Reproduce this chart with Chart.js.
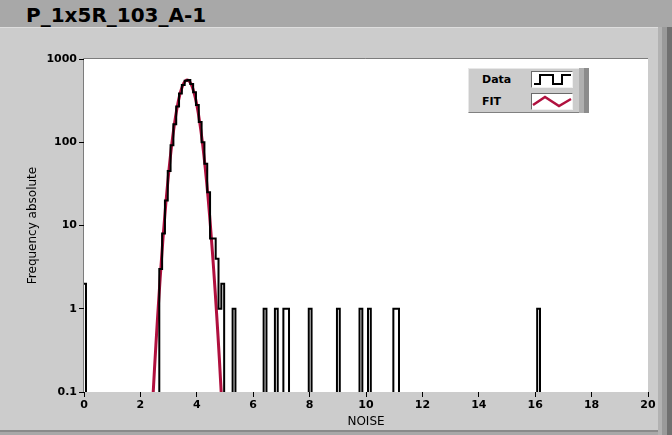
<!DOCTYPE html>
<html>
<head>
<meta charset="utf-8">
<script src="https://cdn.jsdelivr.net/npm/chart.js@4.4.0/dist/chart.umd.min.js"></script>
<style>
  html, body { margin: 0; padding: 0; }
  body {
    width: 672px; height: 435px; position: relative; overflow: hidden;
    background: #a8a8a8; font-family: "DejaVu Sans", sans-serif;
  }
  #title { position: absolute; left: 26px; top: 3px; font-size: 20px; font-weight: bold; color: #000; }
  #panel {
    position: absolute; left: 0; top: 27px; width: 658px; height: 402px;
    background: #cccccc; border-top: 1px solid #dedede; border-bottom: 2px solid #8a8a8a;
  }
  #rail {
    position: absolute; left: 658px; top: 27px; width: 14px; height: 408px;
    background: linear-gradient(to right, #b2b2b2 0 4px, #9a9a9a 4px 9px, #707070 9px);
  }
  #wrap { position: absolute; left: 0; top: 27px; width: 658px; height: 404px; }
  #legend {
    position: absolute; left: 468px; top: 68px; width: 110px; height: 43px;
    background: #cccccc; border-top: 1px solid #e8e8e8; border-left: 1px solid #e8e8e8;
    border-bottom: 1px solid #808080;
  }
  #legend::after {
    content: ""; position: absolute; left: 110px; top: -1px; width: 10px; height: 45px;
    background: linear-gradient(to right, #b0b0b0 0 5px, #8c8c8c 5px);
  }
  .row { position: absolute; left: 0; height: 22px; width: 110px; }
  .row span { position: absolute; left: 13px; top: 4px; font-size: 11px; font-weight: bold; color: #000; }
  .sw {
    position: absolute; left: 62px; top: 2px; width: 40px; height: 15px; background: #fff;
    border-top: 1px solid #6a6a6a; border-left: 1px solid #6a6a6a;
    border-bottom: 1px solid #f0f0f0; border-right: 1px solid #f0f0f0;
  }
  .sw svg { position: absolute; left: 0; top: 0; }
</style>
</head>
<body>
<div id="title">P_1x5R_103_A-1</div>
<div id="panel"></div>
<div id="rail"></div>
<div id="wrap"><canvas id="histChart"></canvas></div>
<div id="legend">
  <div class="row" style="top:0"><span>Data</span>
    <div class="sw"><svg width="40" height="15"><polyline points="2,12 8,12 8,3 21,3 21,12 30,12 30,3 39,3" fill="none" stroke="#000" stroke-width="2"/></svg></div>
  </div>
  <div class="row" style="top:22px"><span>FIT</span>
    <div class="sw"><svg width="40" height="15"><polyline points="1,11 13,3 27,12 39,5" fill="none" stroke="#b0103e" stroke-width="2.5"/></svg></div>
  </div>
</div>
<script>
// Histogram bins (left edge) and counts
const binStart = [-0.03, 0.07,
  2.57, 2.67, 2.77, 2.87, 2.97, 3.07, 3.17, 3.27, 3.37, 3.47, 3.57, 3.67,
  3.77, 3.87, 3.97, 4.07, 4.17, 4.27, 4.37, 4.47, 4.57, 4.67, 4.77, 4.87, 4.97,
  5.27, 5.37, 6.37, 6.47, 6.77, 6.87, 7.07, 7.17, 7.27, 7.97, 8.07, 8.97, 9.07,
  9.77, 9.87, 10.07, 10.17, 10.97, 11.07, 11.17, 16.07, 16.17, 20];
const binCount = [2, 0,
  0, 3, 8, 20, 45, 92, 165, 268, 385, 488, 548, 560,
  500, 400, 280, 175, 100, 55, 25, 7, 7, 4, 1, 2, 0,
  1, 0, 1, 0, 1, 0, 1, 1, 0, 1, 0, 1, 0,
  1, 0, 1, 0, 1, 1, 0, 1, 0, 0];

// Gaussian fit curve
const fitX = [2.4, 2.5, 2.6, 2.7, 2.8, 2.9, 3.0, 3.1, 3.2, 3.3, 3.4, 3.5, 3.6,
  3.7, 3.8, 3.9, 4.0, 4.1, 4.2, 4.3, 4.4, 4.5, 4.6, 4.7, 4.8, 4.9];
const fitY = [0.045, 0.19, 0.70, 2.3, 6.9, 18, 42, 87, 159, 259, 375, 481, 548,
  555, 498, 398, 282, 177, 99, 49, 21.6, 8.4, 2.9, 0.9, 0.25, 0.06];

const xTicks = [0, 2, 4, 6, 8, 10, 12, 14, 16, 18, 20];
const yTicks = [0.1, 1, 10, 100, 1000];

// an empty bin has no place on a log axis: send it below the bottom edge
const OFF_SCALE = 0.001;

const tickFont = { family: 'DejaVu Sans', size: 11, weight: 'bold' };

const plotFrame = {
  id: 'plotFrame',
  beforeDraw(chart) {
    const { ctx, chartArea: a } = chart;
    ctx.save();
    ctx.fillStyle = '#ffffff';
    ctx.fillRect(a.left, a.top, a.right - a.left, a.bottom - a.top);
    ctx.strokeStyle = '#7c7c7c';
    ctx.lineWidth = 1;
    ctx.beginPath();
    ctx.moveTo(a.left - 0.5, a.bottom);
    ctx.lineTo(a.left - 0.5, a.top - 0.5);
    ctx.lineTo(a.right, a.top - 0.5);
    ctx.stroke();
    ctx.restore();
  }
};

new Chart(document.getElementById('histChart'), {
  type: 'line',
  data: {
    datasets: [
      {
        label: 'Data',
        data: binStart.map((x, i) => ({ x: x, y: binCount[i] > 0 ? binCount[i] : OFF_SCALE })),
        stepped: true,
        borderColor: '#000000',
        borderWidth: 2,
        pointRadius: 0,
        fill: false,
        clip: { left: 0, top: 5, right: 0, bottom: 0 }
      },
      {
        label: 'FIT',
        data: fitX.map((x, i) => ({ x: x, y: fitY[i] })),
        borderColor: '#b0103e',
        borderWidth: 3,
        pointRadius: 0,
        tension: 0.3,
        fill: false,
        clip: { left: 0, top: 5, right: 0, bottom: 0 }
      }
    ]
  },
  options: {
    responsive: true,
    maintainAspectRatio: false,
    animation: false,
    layout: { padding: { left: 0, right: 10, top: 32, bottom: 0 } },
    plugins: {
      legend: { display: false },
      tooltip: { enabled: false }
    },
    scales: {
      x: {
        type: 'linear',
        min: 0,
        max: 20,
        afterBuildTicks: scale => { scale.ticks = xTicks.map(v => ({ value: v })); },
        afterFit: scale => { scale.height = 39; },
        ticks: { color: '#000', font: tickFont, padding: 2, maxRotation: 0 },
        grid: { drawOnChartArea: false, tickLength: 5, color: '#000' },
        border: { display: false },
        title: {
          display: true,
          text: 'NOISE',
          color: '#000',
          font: { family: 'DejaVu Sans', size: 12 },
          padding: { top: 0, bottom: 2 }
        }
      },
      y: {
        type: 'logarithmic',
        min: 0.1,
        max: 1000,
        afterBuildTicks: scale => { scale.ticks = yTicks.map(v => ({ value: v })); },
        afterFit: scale => { scale.width = 84; },
        ticks: { color: '#000', font: tickFont, padding: 2, callback: v => String(v) },
        grid: { drawOnChartArea: false, tickLength: 5, color: '#000' },
        border: { display: false },
        title: {
          display: true,
          text: 'Frequency absolute',
          color: '#000',
          font: { family: 'DejaVu Sans', size: 12 },
          padding: { top: 26, bottom: 0 }
        }
      }
    }
  },
  plugins: [plotFrame]
});
</script>
</body>
</html>
